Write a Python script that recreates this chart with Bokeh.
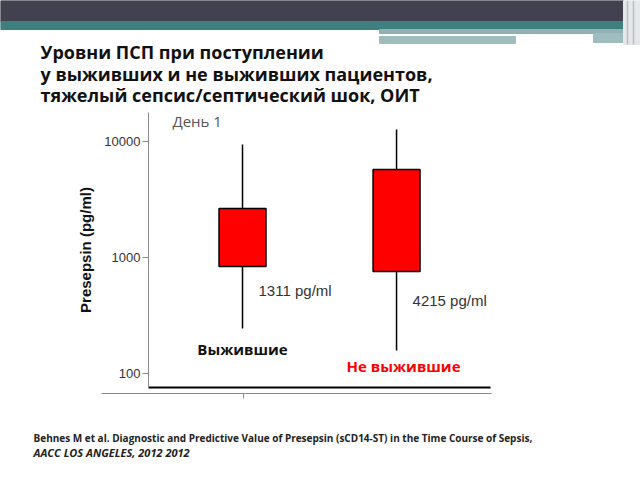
from bokeh.plotting import figure
from bokeh.models import Range1d, FixedTicker, BasicTickFormatter, ColumnDataSource
from bokeh.core.properties import value
from bokeh.embed import file_html
from bokeh.resources import INLINE

# ---- data ----
groups = ["Выжившие", "Не выжившие"]
x_pos = [1, 2]
lower = [244, 158]
q1 = [835, 757]
median = [1490, 2700]
q3 = [2640, 5740]
upper = [9400, 12700]
value_labels = ["1311 pg/ml", "4215 pg/ml"]
value_label_y = [520, 425]
group_label_y = [164, 117]
group_colors = ["#111111", "#ff0000"]
y_ticks = [100, 1000, 10000]

title_lines = ["Уровни ПСП при поступлении",
               "у выживших и не выживших пациентов,",
               "тяжелый сепсис/септический шок, ОИТ"]
citation_lines = ["Behnes M et al. Diagnostic and Predictive Value of Presepsin (sCD14-ST) in the Time Course of Sepsis,",
                  "AACC LOS ANGELES, 2012 2012"]

W, H = 640, 480
FL, FR, FT, FB = 148, 490, 112, 387  # chart frame edges in page pixels

# ---- background page (slide decoration, title, citation) ----
bg = figure(width=W, height=H, x_range=Range1d(0, W), y_range=Range1d(H, 0),
            output_backend="svg", toolbar_location=None)
bg.axis.visible = False
bg.grid.visible = False
bg.outline_line_color = None
bg.min_border = 0
bg.background_fill_color = "white"
bg.border_fill_color = "white"

bg.quad(left=[0, 0, 379, 379, 593, 623],
        right=[623, 623, 623, 515, 623, 640],
        top=[0, 21, 29, 36, 33, 0],
        bottom=[21, 29, 33, 43, 42, 44],
        color=["#41414f", "#3e7f80", "#8fb1b4", "#9fbcbf", "#9fbcbf", "#e4e8ea"])
bg.segment(x0=[627, 633], y0=[0, 0], x1=[627, 633], y1=[44, 44], line_color="#b9bdc2", line_width=1.5)
# lower grey rule with one tick
bg.segment(x0=[101, 243], y0=[393, 393], x1=[491, 243], y1=[393, 398], line_color="#8a8a8a", line_width=1)

bg.text(x=[40, 40, 40], y=[51, 73, 94], text=title_lines,
        text_font=value("Open Sans"), text_font_style="bold", text_font_size="18px",
        text_color="#111111", text_baseline="alphabetic", text_align="left")
bg.text(x=[33], y=[437], text=[citation_lines[0]],
        text_font=value("Open Sans"), text_font_style="bold", text_font_size="10px",
        text_color="#222222", text_baseline="middle", text_align="left")
bg.text(x=[33], y=[452], text=[citation_lines[1]],
        text_font=value("Open Sans"), text_font_style="bold italic", text_font_size="11px",
        text_color="#222222", text_baseline="middle", text_align="left")

# ---- box plot ----
p = figure(width=W, height=H, y_axis_type="log",
           x_range=Range1d(0.3896, 2.610), y_range=Range1d(75.7, 17783),
           output_backend="svg", toolbar_location=None)
p.min_border_left = FL
p.min_border_right = W - FR
p.min_border_top = FT
p.min_border_bottom = H - FB
p.outline_line_color = None
p.grid.visible = False
p.background_fill_alpha = 0
p.border_fill_alpha = 0

src = ColumnDataSource(dict(x=x_pos, lower=lower, q1=q1, median=median, q3=q3, upper=upper))
p.segment(x0="x", y0="q3", x1="x", y1="upper", source=src, line_color="black", line_width=1.5)
p.segment(x0="x", y0="q1", x1="x", y1="lower", source=src, line_color="black", line_width=1.5)
p.rect(x="x", y="upper", width=0.082, height=0, source=src, line_color="black", line_width=1.5)
p.rect(x="x", y="lower", width=0.082, height=0, source=src, line_color="black", line_width=1.5)
p.vbar(x="x", width=0.305, top="q3", bottom="q1", source=src,
       fill_color="#ff0000", line_color="black", line_width=1.5)
p.rect(x="x", y="median", width=0.305, height=0, source=src, line_color="black", line_width=1.5)

p.text(x=x_pos, y=value_label_y, text=value_labels, x_offset=16,
       text_font=value("Liberation Sans"), text_font_size="15px", text_color="#333333",
       text_baseline="middle", text_align="left")
p.text(x=x_pos, y=group_label_y, text=groups, x_offset=[0, 7],
       text_font=value("Open Sans"), text_font_style="bold", text_font_size="15px",
       text_color=group_colors, text_baseline="middle", text_align="center")
p.text(x=[0.545], y=[15170], text=["День 1"],
       text_font=value("Open Sans"), text_font_size="15px", text_color="#555555",
       text_baseline="middle", text_align="left")

yax = p.yaxis[0]
yax.ticker = FixedTicker(ticks=y_ticks, minor_ticks=[])
yax.formatter = BasicTickFormatter(use_scientific=False)
yax.axis_line_color = "#8a8a8a"
yax.major_tick_line_color = "#8a8a8a"
yax.major_tick_out = 6
yax.major_tick_in = 0
yax.minor_tick_out = 0
yax.minor_tick_in = 0
yax.major_label_standoff = 2
yax.major_label_text_font = "Liberation Sans"
yax.major_label_text_font_size = "13px"
yax.major_label_text_color = "#333333"
yax.axis_label = "Presepsin (pg/ml)"
yax.axis_label_text_font = "Liberation Sans"
yax.axis_label_text_font_style = "bold"
yax.axis_label_text_font_size = "15px"
yax.axis_label_text_color = "#111111"
yax.axis_label_standoff = 7

xax = p.xaxis[0]
xax.ticker = FixedTicker(ticks=[])
xax.axis_line_color = "black"
xax.axis_line_width = 2
xax.major_tick_out = 0
xax.major_tick_in = 0
xax.minor_tick_out = 0
xax.minor_tick_in = 0
xax.major_label_standoff = 0

# stack the two figures on top of each other
template = """
{% from macros import embed %}
{% block contents %}
<div style="position:relative;width:640px;height:480px;">
  <div style="position:absolute;left:0;top:0;">{{ embed(roots[0]) }}</div>
  <div style="position:absolute;left:0;top:0;">{{ embed(roots[1]) }}</div>
</div>
{% endblock %}
"""

open("out.html", "w").write(file_html([bg, p], INLINE, template=template))
